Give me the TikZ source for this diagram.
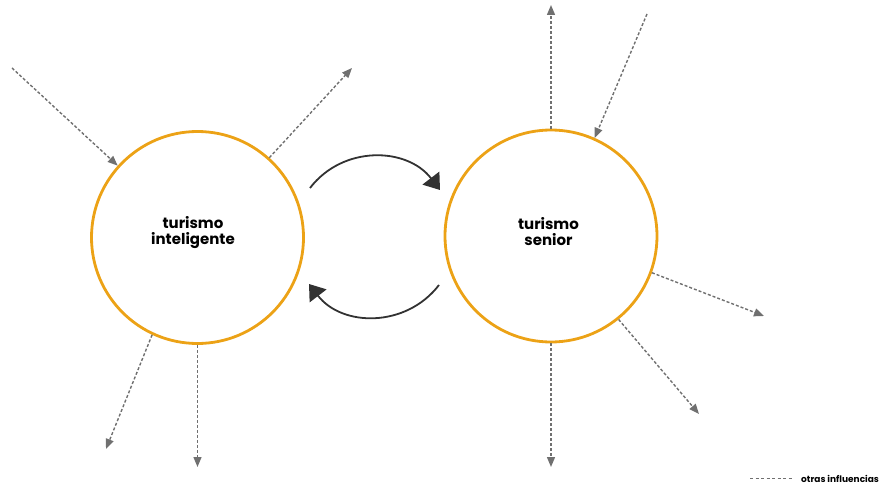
\documentclass[tikz,border=0pt]{standalone}
\usepackage{fontspec}
\setmainfont{Poppins}
\usetikzlibrary{arrows.meta}
\definecolor{ringorange}{RGB}{236,162,22}
\definecolor{flowgray}{RGB}{112,112,112}
\definecolor{cycledark}{RGB}{50,50,50}
\tikzset{
  ring/.style={circle, draw=ringorange, line width=2.8pt, minimum size=212pt, inner sep=0pt},
  ringlabel/.style={font=\bfseries\fontsize{15}{16}\selectfont, align=center, text=black, inner sep=0pt},
  influence/.style={draw=flowgray, line width=1.4pt, dash pattern=on 3pt off 2pt,
    -{Triangle[length=10pt,width=8pt]}},
  cycle/.style={draw=cycledark, line width=1.8pt, -{Triangle[length=15pt,width=21pt]}},
}
\begin{document}
\begin{tikzpicture}[x=1pt,y=-1pt]
  \useasboundingbox (0,0) rectangle (879,487);
  % the two systems
  \node[ring] (L) at (197.5,237.5) {};
  \node[ring] (R) at (551,236) {};
  \node[ringlabel] (Lt) at (193,233) {turismo\\inteligente};
  \node[ringlabel] (Rt) at (548.5,232) {turismo\\senior};

  % free ends of the influence arrows
  \coordinate (l1) at (12,68);
  \coordinate (l2) at (352,68);
  \coordinate (l3) at (106,449);
  \coordinate (l4) at (197.5,467);
  \coordinate (r1) at (551,5);
  \coordinate (r2) at (647,14);
  \coordinate (r3) at (764,316);
  \coordinate (r4) at (699,414);
  \coordinate (r5) at (551,467);

  % influences on the left system
  \draw[influence] (l1) -- (L.138);
  \draw[influence] (L.48) -- (l2);
  \draw[influence] (L.245) -- (l3);
  \draw[influence] (L.270) -- (l4);

  % influences on the right system
  \draw[influence] (R.90) -- (r1);
  \draw[influence] (r2) -- (R.66);
  \draw[influence] (R.-20) -- (r3);
  \draw[influence] (R.-51) -- (r4);
  \draw[influence] (R.270) -- (r5);

  % mutual feedback loop
  \coordinate (t1) at (310,188);
  \coordinate (t2) at (440,190);
  \coordinate (b1) at (439,285);
  \coordinate (b2) at (309,284);
  \draw[cycle] (t1) .. controls (343,145) and (407,147) .. (t2);
  \draw[cycle] (b1) .. controls (406,328) and (342,327) .. (b2);

  % legend
  \coordinate (k1) at (750,478);
  \coordinate (k2) at (792,478);
  \draw[draw=flowgray, line width=1pt, dash pattern=on 3pt off 2.5pt] (k1) -- (k2);
  \node[anchor=west, inner sep=0pt, font=\bfseries\fontsize{9}{10}\selectfont] (kt) at (801,478.5) {otras influencias};
\end{tikzpicture}
\end{document}
